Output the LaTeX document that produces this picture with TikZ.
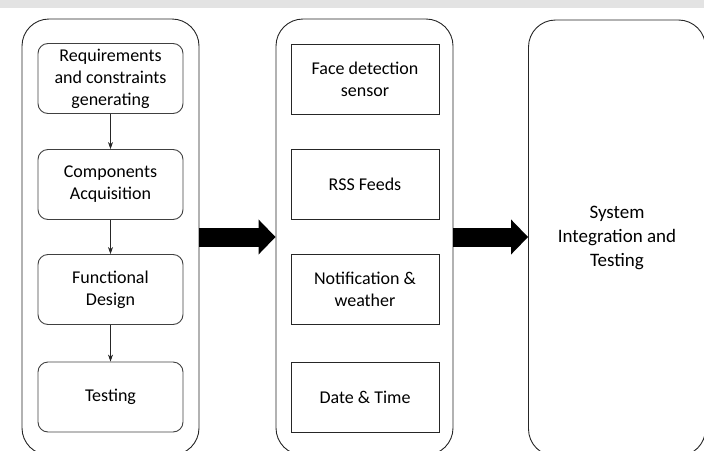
\documentclass[tikz,border=0pt]{standalone}
\usepackage{fontspec}
\setmainfont{Carlito}
\usepackage{xcolor}
\usepackage{tikz}
\usetikzlibrary{shapes,arrows,arrows.meta,positioning,calc}

\begin{document}
\begin{tikzpicture}[x=1pt, y=-1pt,
  grp/.style={rectangle, draw=black!85, rounded corners=27pt, line width=0.9pt,
              minimum width=177pt, minimum height=436pt, inner sep=0pt,
              align=center, font=\fontsize{19}{24}\selectfont},
  task/.style={rectangle, draw=black!75, rounded corners=10pt, line width=0.9pt,
               minimum width=145pt, minimum height=70pt, inner sep=0pt,
               align=center, font=\fontsize{18}{22}\selectfont},
  part/.style={rectangle, draw=black!85, line width=0.9pt,
               minimum width=148pt, minimum height=70pt, inner sep=0pt,
               align=center, font=\fontsize{18}{22}\selectfont},
  arr/.style={-{Stealth[length=7pt,width=5pt]}, black!85, line width=0.7pt},
  bigarr/.style={-{Triangle[length=17pt,width=34pt]}, line width=19pt}
]
\useasboundingbox (0,0) rectangle (704,450);
\clip (0,0) rectangle (704,450);
\fill[gray!22] (0,0) rectangle (704,8);

% containers
\node[grp] (plan)  at (110.5,237) {};
\node[grp] (parts) at (364.5,237) {};
\node[grp] (integ) at (617,238) {System\\Integration and\\Testing};

% planning steps
\node[task] (req)  at (110.5,78.5) {Requirements\\and constraints\\generating};
\node[task] (acq)  at (110.5,184.5) {Components\\Acquisition};
\node[task] (func) at (110.5,289.5) {Functional\\Design};
\node[task] (test) at (110.5,397) {Testing};

% modules
\node[part] (face)  at (365,79) {Face detection\\sensor};
\node[part] (rss)   at (365,184.5) {RSS Feeds};
\node[part] (notif) at (365,289.5) {Notification \&\\weather};
\node[part] (date)  at (365,397.5) {Date \& Time};

\draw[arr] (req) -- (acq);
\draw[arr] (acq) -- (func);
\draw[arr] (func) -- (test);

\draw[bigarr] (plan.east) -- (parts.west);
\draw[bigarr] (parts.east) -- (integ.west |- parts.east);
\end{tikzpicture}
\end{document}
